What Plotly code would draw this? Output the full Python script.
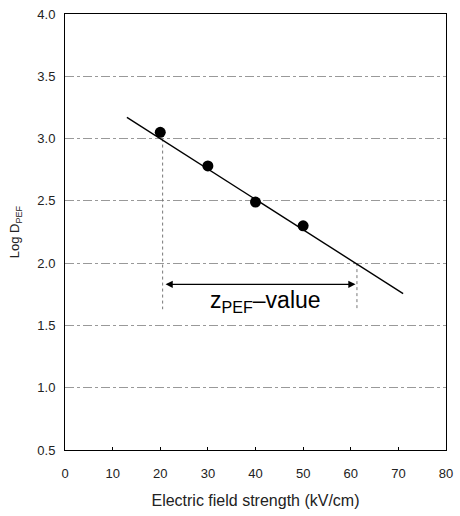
import plotly.graph_objects as go

# Data
field_kv = [20, 30, 40, 50]
log_d = [3.05, 2.78, 2.49, 2.30]
fit_x = [13, 71]
fit_y = [3.17, 1.756]
z_left_x = 20.5
z_right_x = 61.3
z_left_y = 3.0
z_right_y = 2.0
drop_bottom = 1.63
arrow_y = 1.83
x_ticks = [0, 10, 20, 30, 40, 50, 60, 70, 80]
y_ticks = [0.5, 1.0, 1.5, 2.0, 2.5, 3.0, 3.5, 4.0]

font = "Liberation Sans, Arial, sans-serif"

fig = go.Figure()
# dotted drop lines
fig.add_trace(go.Scatter(x=[z_left_x, z_left_x], y=[z_left_y, drop_bottom], mode="lines",
                         line=dict(color="#777", width=1, dash="dot"), showlegend=False, hoverinfo="skip"))
fig.add_trace(go.Scatter(x=[z_right_x, z_right_x], y=[z_right_y, drop_bottom], mode="lines",
                         line=dict(color="#777", width=1, dash="dot"), showlegend=False, hoverinfo="skip"))
# fitted line
fig.add_trace(go.Scatter(x=fit_x, y=fit_y, mode="lines", line=dict(color="black", width=1.4),
                         showlegend=False))
# data points
fig.add_trace(go.Scatter(x=field_kv, y=log_d, mode="markers",
                         marker=dict(color="black", size=11), showlegend=False))

# double arrow
fig.add_annotation(x=z_right_x - 0.3, y=arrow_y, ax=z_left_x + 0.3, ay=arrow_y,
                   xref="x", yref="y", axref="x", ayref="y", text="",
                   showarrow=True, arrowhead=2, arrowside="end+start", arrowsize=1.2,
                   arrowwidth=1.2, arrowcolor="black")
fig.add_annotation(x=42.2, y=1.69, xref="x", yref="y", text="z<sub>PEF</sub>–value",
                   showarrow=False, font=dict(family=font, size=23, color="black"))

fig.update_layout(
    width=460, height=516,
    margin=dict(l=65, r=10, t=7, b=66),
    paper_bgcolor="white", plot_bgcolor="white",
    font=dict(family=font, size=13, color="#222"),
    xaxis=dict(range=[0, 80], tickvals=x_ticks, showgrid=False, zeroline=False,
               showline=True, linecolor="black", linewidth=1, mirror=True,
               ticks="inside", ticklen=3, tickcolor="black", ticklabelstandoff=11,
               title=dict(text="Electric field strength (kV/cm)",
                          font=dict(size=16, color="#222"), standoff=15)),
    yaxis=dict(range=[0.5, 4.0], tickvals=y_ticks, tickformat=".1f", showgrid=True,
               gridcolor="#999", griddash="dashdot", gridwidth=1, zeroline=False,
               showline=True, linecolor="black", linewidth=1, mirror=True,
               ticks="", ticklabelstandoff=6,
               title=dict(text="Log D<sub>PEF</sub>", font=dict(size=13, color="#222"), standoff=14)),
)

fig.write_html("out.html", config={"displayModeBar": False},
               post_script="document.body.style.margin='0';")
